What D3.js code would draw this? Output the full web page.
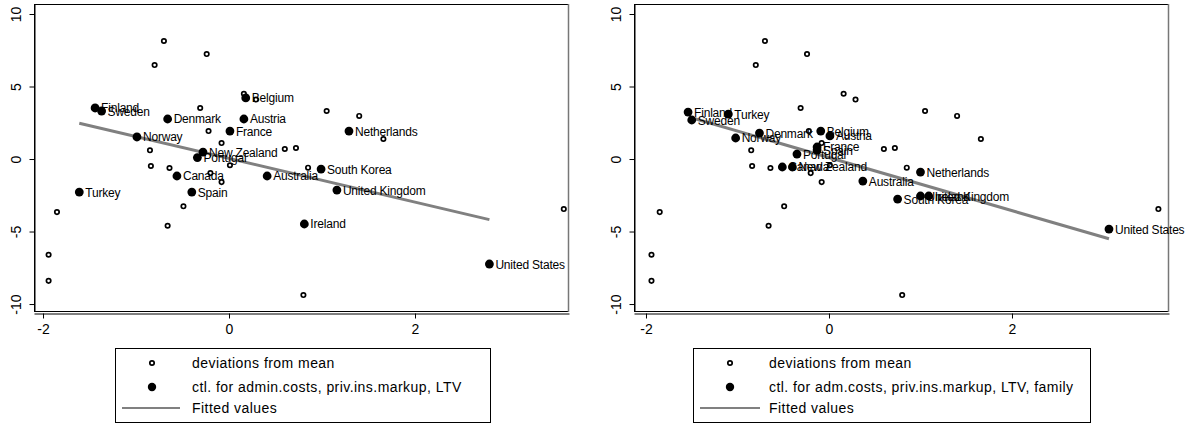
<!DOCTYPE html>
<html>
<head>
<meta charset="utf-8">
<script src="https://cdn.jsdelivr.net/npm/d3@7"></script>
<style>
  html, body { margin: 0; padding: 0; background: #fff; }
  svg { display: block; font-family: "Liberation Sans", Arial, sans-serif; }
</style>
</head>
<body>
<svg id="chart" width="1194" height="425"></svg>
<script>
// ---------- data ----------
const xTicks = [-2, 0, 2];
const yTicks = [-10, -5, 0, 5, 10];

// deviations from mean (same in both panels)
const devX = [-0.70, -0.80, -0.24, -0.31, 0.16, 0.29, -0.22, -0.08, -0.85, 0.60, 0.72, 1.05, 1.40, 1.66,
              -0.84, -0.64, -0.20, -0.08, 0.01, -0.49, -0.66, -1.85, -1.94, -1.94, 0.85, 3.60, 0.80];
const devY = [8.14, 6.48, 7.24, 3.52, 4.50, 4.10, 1.93, 1.10, 0.60, 0.69, 0.76, 3.31, 2.97, 1.38,
              -0.48, -0.62, -0.97, -1.59, -0.43, -3.26, -4.60, -3.66, -6.60, -8.40, -0.60, -3.45, -9.38];

// left panel: controlled for admin.costs, priv.ins.markup, LTV
const leftCountries = ["Finland", "Sweden", "Denmark", "Belgium", "Austria", "France", "Norway", "Netherlands",
  "New Zealand", "Portugal", "Canada", "Spain", "Turkey", "Australia", "South Korea", "United Kingdom", "Ireland", "United States"];
const leftX = [-1.44, -1.37, -0.66, 0.18, 0.16, 0.01, -0.99, 1.29, -0.28, -0.34, -0.56, -0.40, -1.61, 0.41, 0.99, 1.16, 0.81, 2.80];
const leftY = [3.52, 3.31, 2.76, 4.21, 2.76, 1.93, 1.52, 1.93, 0.48, 0.10, -1.17, -2.28, -2.28, -1.17, -0.69, -2.14, -4.48, -7.24];
const leftFitX = [-1.61, 2.80];
const leftFitY = [2.47, -4.18];

// right panel: controlled for adm.costs, priv.ins.markup, LTV, family
const rightCountries = ["Finland", "Sweden", "Turkey", "Denmark", "Norway", "Belgium", "Austria", "France", "Spain",
  "Portugal", "Canada", "New Zealand", "Australia", "South Korea", "Netherlands", "United Kingdom", "Ireland", "United States"];
const rightX = [-1.54, -1.50, -1.10, -0.76, -1.02, -0.09, 0.01, -0.13, -0.13, -0.35, -0.51, -0.40, 0.37, 0.75, 1.00, 1.00, 1.09, 3.06];
const rightY = [3.24, 2.69, 3.10, 1.79, 1.45, 1.93, 1.59, 0.83, 0.62, 0.34, -0.55, -0.55, -1.52, -2.76, -0.90, -2.55, -2.55, -4.83];
const rightFitX = [-1.53, 3.06];
const rightFitY = [2.90, -5.50];

const leftLegend = ["deviations from mean", "ctl. for admin.costs, priv.ins.markup, LTV", "Fitted values"];
const rightLegend = ["deviations from mean", "ctl. for adm.costs, priv.ins.markup, LTV, family", "Fitted values"];

// ---------- drawing ----------
const svg = d3.select("#chart");

function drawPanel(cfg) {
  const g = svg.append("g");
  const x = d3.scaleLinear().domain(cfg.xDomain).range([cfg.left, cfg.right]);
  const y = d3.scaleLinear().domain([-10.48, 10.69]).range([311, 4]);

  // plot frame
  g.append("rect")
    .attr("x", cfg.left + 0.5).attr("y", 4.5)
    .attr("width", cfg.right - cfg.left - 1).attr("height", 311 - 4)
    .attr("fill", "none").attr("stroke", "#000").attr("stroke-width", 1);
  g.append("line")
    .attr("x1", cfg.right - 0.5).attr("x2", cfg.right - 0.5)
    .attr("y1", 4).attr("y2", 312)
    .attr("stroke", "#777").attr("stroke-width", 1.5);

  // x axis
  const xa = g.append("g").attr("transform", "translate(0,313.5)")
    .call(d3.axisBottom(x).tickValues(xTicks).tickSize(5).tickSizeOuter(0).tickPadding(6)
      .tickFormat(d3.format("d")));
  xa.select(".domain").attr("stroke", "#000");
  xa.selectAll(".tick line").attr("stroke", "#000");
  xa.selectAll(".tick text").attr("font-size", 14).attr("fill", "#000")
    .attr("font-family", "Liberation Sans, Arial, sans-serif")
    .text(d => d < 0 ? "-" + Math.abs(d) : d);

  // y axis
  const ya = g.append("g").attr("transform", `translate(${cfg.left + 0.5},0)`)
    .call(d3.axisLeft(y).tickValues(yTicks).tickSize(5).tickSizeOuter(0).tickFormat(""));
  ya.select(".domain").attr("stroke", "#000");
  ya.selectAll(".tick line").attr("stroke", "#000");
  ya.selectAll(".tick").append("text")
    .attr("transform", "translate(-14,0) rotate(-90)")
    .attr("text-anchor", "middle")
    .attr("font-size", 14).attr("fill", "#000")
    .attr("font-family", "Liberation Sans, Arial, sans-serif")
    .text(d => d < 0 ? "-" + Math.abs(d) : d);

  // deviations from mean
  g.append("g").selectAll("circle").data(devX.map((d, i) => [d, devY[i]])).join("circle")
    .attr("cx", d => x(d[0])).attr("cy", d => y(d[1]))
    .attr("r", 2.2).attr("fill", "#fff").attr("stroke", "#000").attr("stroke-width", 1.7);

  // fitted line
  g.append("line")
    .attr("x1", x(cfg.fitX[0])).attr("y1", y(cfg.fitY[0]))
    .attr("x2", x(cfg.fitX[1])).attr("y2", y(cfg.fitY[1]))
    .attr("stroke", "#808080").attr("stroke-width", 3);

  // controlled points
  const pts = cfg.countries.map((c, i) => ({ c, x: cfg.px[i], y: cfg.py[i] }));
  g.append("g").selectAll("circle").data(pts).join("circle")
    .attr("cx", d => x(d.x)).attr("cy", d => y(d.y))
    .attr("r", 4.4).attr("fill", "#000");
  g.append("g").selectAll("text").data(pts).join("text")
    .attr("x", d => x(d.x) + 6).attr("y", d => y(d.y) + 4.5)
    .attr("font-size", 12).attr("fill", "#000")
    .attr("letter-spacing", -0.2)
    .text(d => d.c);

  // legend
  const L = cfg.legend;
  const lg = g.append("g");
  lg.append("rect").attr("x", L.x + 0.5).attr("y", 348.5).attr("width", L.w).attr("height", 74)
    .attr("fill", "#fff").attr("stroke", "#000").attr("stroke-width", 1);
  lg.append("circle").attr("cx", L.mx).attr("cy", 363).attr("r", 2.2)
    .attr("fill", "#fff").attr("stroke", "#000").attr("stroke-width", 1.7);
  lg.append("circle").attr("cx", L.mx).attr("cy", 387).attr("r", 4.2).attr("fill", "#000");
  lg.append("line").attr("x1", L.lx1).attr("x2", L.lx2).attr("y1", 408).attr("y2", 408)
    .attr("stroke", "#808080").attr("stroke-width", 2);
  lg.selectAll("text.leg").data(cfg.legendLabels).join("text")
    .attr("class", "leg")
    .attr("x", L.tx).attr("y", (d, i) => [368, 392, 413][i])
    .attr("font-size", 14).attr("letter-spacing", 0.45).attr("fill", "#000")
    .text(d => d);
}

drawPanel({
  left: 34, right: 569, xDomain: [-2.097, 3.656],
  countries: leftCountries, px: leftX, py: leftY,
  fitX: leftFitX, fitY: leftFitY,
  legendLabels: leftLegend,
  legend: { x: 115, w: 375, mx: 152, lx1: 122, lx2: 180, tx: 192 }
});
drawPanel({
  left: 634, right: 1169, xDomain: [-2.131, 3.716],
  countries: rightCountries, px: rightX, py: rightY,
  fitX: rightFitX, fitY: rightFitY,
  legendLabels: rightLegend,
  legend: { x: 693, w: 397, mx: 730, lx1: 700, lx2: 760, tx: 769 }
});
</script>
</body>
</html>
